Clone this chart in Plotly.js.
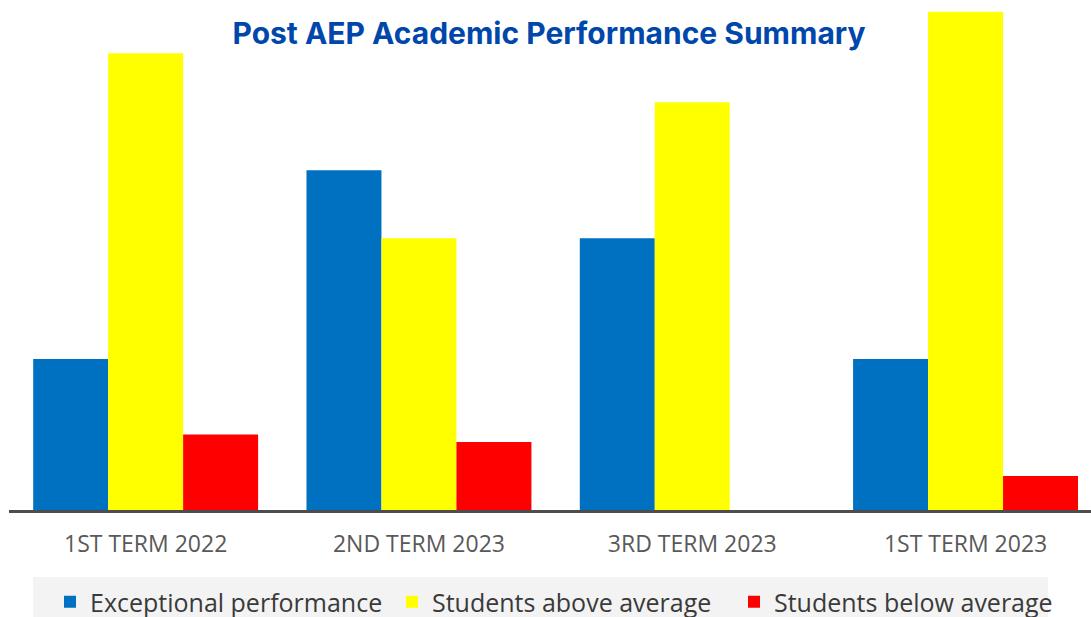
<!DOCTYPE html>
<html>
<head>
<meta charset="utf-8">
<script src="https://cdn.plot.ly/plotly-3.0.1.min.js"></script>
<style>html,body{margin:0;padding:0;background:#fff;}#chart{width:1091px;height:617px;}</style>
</head>
<body>
<div id="chart"></div>
<script>
const categories = ["1ST TERM 2022", "2ND TERM 2023", "3RD TERM 2023", "1ST TERM 2023"];
const seriesNames = ["Exceptional performance", "Students above average", "Students below average"];
const exceptional = [20, 45, 36, 20];
const aboveAverage = [60.5, 36, 54, 66];
const belowAverage = [10, 9, 0, 4.5];
const colors = ["#0070c0", "#ffff00", "#ff0000"];

const seriesValues = [exceptional, aboveAverage, belowAverage];
const traces = seriesValues.map((vals, i) => ({
  type: "bar",
  name: seriesNames[i],
  x: categories,
  y: vals,
  marker: {color: colors[i], line: {width: 0}},
  hoverinfo: "x+y+name"
}));

const layout = {
  width: 1091,
  height: 617,
  margin: {l: 9, r: 0, t: 0, b: 107, pad: 0},
  paper_bgcolor: "#ffffff",
  plot_bgcolor: "#ffffff",
  barmode: "group",
  bargap: 0.177,
  bargroupgap: 0,
  title: {
    text: "<b>Post AEP Academic Performance Summary</b>",
    font: {family: "Inter, 'Open Sans', sans-serif", size: 30, color: "#0047ab"},
    x: 549 / 1091, xanchor: "center", xref: "container",
    y: 1 - 33 / 617, yanchor: "middle", yref: "container"
  },
  xaxis: {
    type: "category",
    range: [-0.5, 3.459],
    showgrid: false,
    zeroline: false,
    showline: true,
    linecolor: "#4d4d4d",
    linewidth: 3,
    ticks: "",
    ticklabelstandoff: 11,
    tickfont: {family: "'Open Sans', sans-serif", size: 23, color: "#595959"},
    fixedrange: true
  },
  yaxis: {
    range: [0, 67.55],
    visible: false,
    showgrid: false,
    zeroline: false,
    fixedrange: true
  },
  showlegend: true,
  legend: {
    orientation: "h",
    xref: "container", yref: "container",
    x: 50 / 1091, xanchor: "left",
    y: (617 - 602) / 617, yanchor: "middle",
    bgcolor: "rgba(0,0,0,0)",
    entrywidth: 297,
    entrywidthmode: "pixels",
    font: {family: "'Open Sans', sans-serif", size: 25, color: "#3a3a3a"},
    traceorder: "normal"
  },
  shapes: [{
    type: "rect", xref: "paper", yref: "paper",
    x0: (33 - 9) / 1082, x1: (1048 - 9) / 1082,
    y0: (510 - 577) / 510, y1: (510 - 630) / 510,
    fillcolor: "#f3f3f3", line: {width: 0}, layer: "below"
  }]
};

Plotly.newPlot("chart", traces, layout, {displayModeBar: false, staticPlot: true});
</script>
</body>
</html>
